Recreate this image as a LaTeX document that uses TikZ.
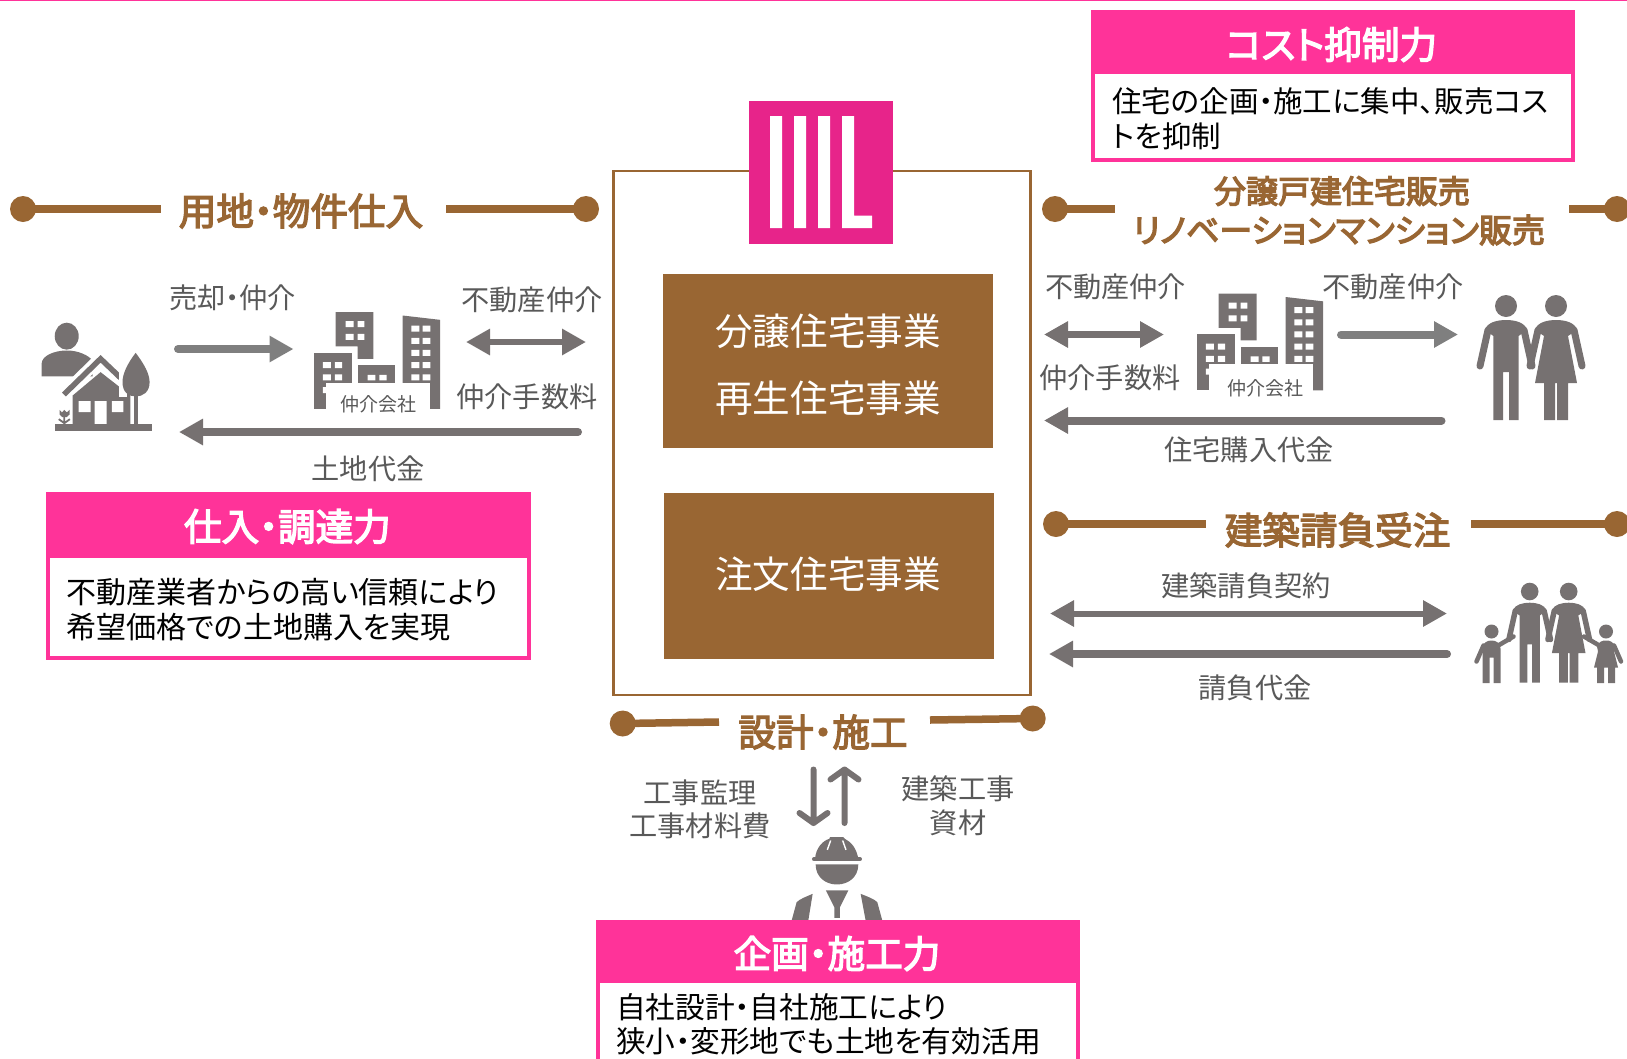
\documentclass[tikz,border=0pt]{standalone}
\usepackage{fontspec}
\setmainfont[RawFeature=+palt]{Noto Sans CJK JP}
\usetikzlibrary{arrows.meta}
\definecolor{pinkc}{HTML}{FF3399}
\definecolor{logoc}{HTML}{E7248A}
\definecolor{brownc}{HTML}{996633}
\definecolor{grayc}{HTML}{767171}
\definecolor{lgrayc}{HTML}{7F7F7F}
\definecolor{textc}{HTML}{595959}
\newcommand{\fsz}[1]{\fontsize{#1}{#1}\selectfont}
\newcommand{\semi}[1]{\special{pdf:code 2 Tr 1.3 w}#1\special{pdf:code 0 Tr 1 w}}
\tikzset{
  lbl/.style={inner sep=0pt,text=textc,font=\fsz{28.2}},
  ttl/.style={inner sep=0pt,text=brownc,font=\fsz{37.6}},
  hdr/.style={inner sep=0pt,text=white,font=\fsz{37.6}},
  bodyt/.style={inner sep=0pt,anchor=west,text=black,font=\fsz{30}},
  biz/.style={inner sep=0pt,text=white,font=\fsz{37.6}},
  bar/.style={brownc,line width=7.5pt},
  ball/.style={fill=brownc,draw=none},
  arr/.style={grayc,line width=8pt,line cap=round,-{Triangle[length=24pt,width=25pt]}},
  arrl/.style={lgrayc,line width=8pt,line cap=round,-{Triangle[length=24pt,width=25pt]}},
  darr/.style={grayc,line width=6.5pt,{Triangle[length=24pt,width=25pt]}-{Triangle[length=24pt,width=25pt]}},
  varr/.style={grayc,line width=6pt,line cap=round,line join=round},
  ctag/.style={inner sep=0pt,text=textc,font=\fsz{19}}
}
\newcommand{\pinkbox}[5]{%
  \fill[pinkc] (#1,#2) rectangle (#3,#5);
  \draw[pinkc,line width=4pt] (#1+2,#2+2) rectangle (#3-2,#4-2);}
% building, in zoom units
\newcommand{\bldg}[2]{%
\begin{scope}[shift={(#1,#2)},x=0.3984pt,y=-0.3333pt]
  \fill[grayc] (850,125) -- (945,125) -- (945,265) -- (905,265) -- (905,228) -- (850,228) -- cycle;
  \fill[grayc] (795,247) rectangle (890,415);
  \fill[grayc] (905,285) rectangle (1000,415);
  \fill[grayc] (1018,135) -- (1112,148) -- (1112,415) -- (1018,415) -- cycle;
  \fill[white] (875,152) rectangle (895,170) (905,152) rectangle (922,170)
    (875,190) rectangle (895,208) (905,190) rectangle (922,208)
    (818,275) rectangle (838,293) (848,275) rectangle (866,293)
    (818,312) rectangle (838,330) (848,312) rectangle (866,330)
    (818,350) rectangle (832,368)
    (930,313) rectangle (950,330) (960,313) rectangle (978,330);
  \foreach \yy in {165,202,238,275,312}{
    \fill[white] (1040,\yy) rectangle (1060,\yy+18) (1068,\yy) rectangle (1088,\yy+18);}
  \fill[white] (827,337) rectangle (1087,440);
\end{scope}}
% adults, head centre at origin, couple-size units
\newcommand{\manfig}[4]{%
\begin{scope}[shift={(#1,#2)},scale=#3]
  \fill[grayc] (0,0) circle (11);
  \fill[grayc] (-12.6,114) -- (-12.6,30) -- (-21,24) .. controls (-19,16) and (-8,14) .. (0,14)
    .. controls (8,14) and (19,16) .. (21,24) -- (12.6,30) -- (12.6,114) -- (3,114) -- (3,66) -- (-3,66) -- (-3,114) -- cycle;
  \draw[grayc,line width=#4,line cap=round] (-18,24) -- (-26,60) (18,24) -- (26,60);
\end{scope}}
\newcommand{\womanfig}[4]{%
\begin{scope}[shift={(#1,#2)},scale=#3]
  \fill[grayc] (0,0) circle (11);
  \fill[grayc] (-12,114) -- (-12,77) -- (-21,77) -- (-12,30) -- (-21,24) .. controls (-19,16) and (-8,14) .. (0,14)
    .. controls (8,14) and (19,16) .. (21,24) -- (12,30) -- (21,77) -- (12,77) -- (12,114) -- (1,114) -- (1,77) -- (-1,77) -- (-1,114) -- cycle;
  \draw[grayc,line width=#4,line cap=round] (-18,24) -- (-26,60) (18,24) -- (26,60);
\end{scope}}
\begin{document}
\begin{tikzpicture}[x=1pt,y=-1pt]
\useasboundingbox (0,0) rectangle (1627,1058);
\clip (0,0) rectangle (1627,1058);
\fill[pinkc] (0,0) rectangle (1627,1.2);

% central frame
\node[draw=brownc,line width=2.5pt,minimum width=417pt,minimum height=524pt,inner sep=0pt] (frame) at (821.8,433) {};
\fill[logoc] (749,100.5) rectangle (893,243.5);
\fill[white] (770,116) rectangle (782,228) (794,116) rectangle (806,228) (818,116) rectangle (830,228)
  (842,116) rectangle (854,228) (854,215.5) rectangle (872,228);
\fill[brownc] (663,274) rectangle (993,447.5);
\fill[brownc] (664,493) rectangle (994,659);
\node[biz] (b1) at (828,331) {分譲住宅事業};
\node[biz] (b2) at (828,398.5) {再生住宅事業};
\node[biz] (b3) at (828,574) {注文住宅事業};

% left banner
\coordinate (la) at (23,209); \coordinate (lb) at (161,209);
\coordinate (lc) at (446,209); \coordinate (ld) at (586,209);
\draw[bar] (la) -- (lb); \draw[bar] (lc) -- (ld);
\fill[ball] (la) circle (13); \fill[ball] (ld) circle (13);
\node[ttl] (t1) at (301,211) {\semi{用地・物件仕入}};

% right banners
\coordinate (ra) at (1055,209); \coordinate (rb) at (1115,209);
\coordinate (rc) at (1569,209); \coordinate (rd) at (1617,209);
\draw[bar] (ra) -- (rb); \draw[bar] (rc) -- (rd);
\fill[ball] (ra) circle (13); \fill[ball] (rd) circle (13);
\node[ttl,font=\fsz{32}] (t2) at (1342,191) {\semi{分譲戸建住宅販売}};
\node[ttl,font=\fsz{33}] (t3) at (1339,230) {\semi{リノベーションマンション販売}};

\coordinate (sa) at (1056,524); \coordinate (sb) at (1206,524);
\coordinate (sc) at (1471,524); \coordinate (sd) at (1617,524);
\draw[bar] (sa) -- (sb); \draw[bar] (sc) -- (sd);
\fill[ball] (sa) circle (13); \fill[ball] (sd) circle (13);
\node[ttl] (t4) at (1337.5,530) {\semi{建築請負受注}};

% design banner
\coordinate (da) at (622.7,723.5); \coordinate (db) at (719,722);
\coordinate (dc) at (930,720); \coordinate (dd) at (1032.7,718.5);
\draw[bar] (da) -- (db); \draw[bar] (dc) -- (dd);
\fill[ball] (da) circle (13); \fill[ball] (dd) circle (13);
\node[ttl] (t5) at (823,732) {\semi{設計・施工}};

% left flow
\bldg{-3}{270.5}
\node[ctag] (c1) at (378.7,404) {仲介会社};
\coordinate (a1s) at (178,349); \coordinate (a1e) at (293.5,349);
\draw[arrl] (a1s) -- (a1e);
\coordinate (a2s) at (466,342); \coordinate (a2e) at (586,342);
\draw[darr] (a2s) -- (a2e);
\coordinate (a3s) at (578,432); \coordinate (a3e) at (179,432);
\draw[arr] (a3s) -- (a3e);
\node[lbl] (l1) at (232.5,298) {売却・仲介};
\node[lbl] (l2) at (532,300) {不動産仲介};
\node[lbl] (l3) at (527,397) {仲介手数料};
\node[lbl] (l4) at (368,469) {土地代金};

% house and owner
\begin{scope}[shift={(-1,270.5)},x=0.3984pt,y=-0.3333pt]
  \fill[grayc] (170,197) ellipse [x radius=12pt,y radius=13.5pt];
  \fill[grayc] (107,318) -- (107,280) .. controls (107,255) and (140,240) .. (170,240)
    .. controls (200,240) and (225,255) .. (235,270) -- (235,318) -- cycle;
  \draw[white,line width=12pt,miter limit=10] (155,380) -- (255,262) -- (312,330);
  \draw[grayc,line width=5.5pt,miter limit=10] (163,372) -- (255,265) -- (305,322);
  \fill[grayc] (185,462) -- (185,375) -- (255,305) -- (330,375) -- (330,462) -- cycle;
  \fill[white] (200,392) rectangle (230,425) (240,392) rectangle (270,462) (283,392) rectangle (312,425);
  \draw[white,line width=9pt] (343,378) -- (343,462);
  \fill[white] (300,300) rectangle (322,380);
  \fill[grayc] (343,247) .. controls (322,280) and (310,310) .. (310,335) .. controls (310,365) and (325,378) .. (343,378)
    .. controls (361,378) and (378,365) .. (378,335) .. controls (378,310) and (364,280) .. (343,247) -- cycle;
  \draw[grayc,line width=4pt] (343,370) -- (343,462);
  \fill[grayc] (140,462) rectangle (384,483);
  \fill[grayc] (152,418) -- (158,426) -- (164,418) -- (170,426) -- (177,418) -- (177,432) -- (170,440) -- (159,440) -- (152,432) -- cycle;
  \draw[grayc,line width=1.8pt] (164,440) -- (164,462) (150,446) -- (164,458) (178,446) -- (164,458);
\end{scope}

% right flow
\bldg{880}{252}
\node[ctag] (c2) at (1265.9,388) {仲介会社};
\coordinate (b1s) at (1044,334.5); \coordinate (b1e) at (1164,334.5);
\draw[darr] (b1s) -- (b1e);
\coordinate (b2s) at (1341,334.5); \coordinate (b2e) at (1458,334.5);
\draw[arrl] (b2s) -- (b2e);
\coordinate (b3s) at (1441.5,420.5); \coordinate (b3e) at (1044,420.5);
\draw[arr] (b3s) -- (b3e);
\node[lbl] (r1) at (1115.5,287) {不動産仲介};
\node[lbl] (r2) at (1393,287) {不動産仲介};
\node[lbl] (r3) at (1110,378) {仲介手数料};
\node[lbl] (r4) at (1249,450) {住宅購入代金};
\manfig{1506}{306}{1}{7pt}
\womanfig{1556}{306}{1}{7pt}

% contract flow
\coordinate (c1s) at (1050,613.5); \coordinate (c1e) at (1447,613.5);
\draw[darr,line width=6pt] (c1s) -- (c1e);
\coordinate (c2s) at (1447,654); \coordinate (c2e) at (1049,654);
\draw[arr] (c2s) -- (c2e);
\node[lbl] (f1) at (1246,586) {建築請負契約};
\node[lbl] (f2) at (1255,688) {請負代金};
\manfig{1529.7}{591.5}{0.8}{5.5pt}
\womanfig{1568.7}{591.5}{0.8}{5.5pt}
% children
\begin{scope}[shift={(1491.5,631.5)}]
  \fill[grayc] (0,0) circle (7);
  \fill[grayc] (-9,51.7) -- (-9,17) .. controls (-9,11) and (-4,9) .. (0,9) .. controls (4,9) and (9,11) .. (9,17)
    -- (9,51.7) -- (2,51.7) -- (2,26) -- (-2,26) -- (-2,51.7) -- cycle;
  \draw[grayc,line width=4.5pt,line cap=round] (-8,14) -- (-15,30) (5,15) -- (22,5);
\end{scope}
\begin{scope}[shift={(1606,631.5)}]
  \fill[grayc] (0,0) circle (7);
  \fill[grayc] (-9,51.7) -- (-9,36) -- (-12,36) -- (-8,20) -- (-9,15) .. controls (-7,10) and (-4,9) .. (0,9) .. controls (4,9) and (7,10) .. (9,15)
    -- (8,20) -- (12,36) -- (9,36) -- (9,51.7) -- (2,51.7) -- (2,36) -- (-2,36) -- (-2,51.7) -- cycle;
  \draw[grayc,line width=4.5pt,line cap=round] (8,14) -- (15,30) (-5,15) -- (-22,5);
\end{scope}

% construction flow
\coordinate (v1s) at (813.5,769.5); \coordinate (v1e) at (813.5,823);
\coordinate (v1l) at (799.5,813); \coordinate (v1r) at (827.5,813);
\draw[varr] (v1s) -- (v1e) (v1l) -- (v1e) -- (v1r);
\coordinate (v2s) at (844.5,823); \coordinate (v2e) at (844.5,769.5);
\coordinate (v2l) at (830.5,779.5); \coordinate (v2r) at (858.5,779.5);
\draw[varr] (v2s) -- (v2e) (v2l) -- (v2e) -- (v2r);
\node[lbl] (w1) at (700,793) {工事監理};
\node[lbl] (w2) at (700,826) {工事材料費};
\node[lbl] (w3) at (958,789) {建築工事};
\node[lbl] (w4) at (958,822.7) {資材};
\begin{scope}[shift={(590,690.5)},x=0.3333pt,y=-0.3333pt]
  \fill[grayc] (675,505) .. controls (678,470) and (700,450) .. (718,445) -- (720,440) -- (760,440) -- (765,445)
    .. controls (785,455) and (800,475) .. (805,505) -- cycle;
  \draw[grayc,line width=4pt,line cap=round] (672,506) -- (810,506);
  \draw[white,line width=1.4pt] (722,450) -- (712,478) (758,450) -- (768,478);
  \fill[grayc] (677,522) -- (805,522) .. controls (805,560) and (775,582) .. (741,582) .. controls (707,582) and (677,560) .. (677,522) -- cycle;
  \fill[grayc] (605,690) -- (620,635) .. controls (630,625) and (650,618) .. (668,610) -- (655,690) -- cycle;
  \fill[grayc] (877,690) -- (862,635) .. controls (852,625) and (832,618) .. (812,610) -- (827,690) -- cycle;
  \fill[grayc] (708,600) -- (775,600) -- (750,650) -- (750,682) -- (733,682) -- (733,650) -- cycle;
\end{scope}

% pink boxes
\pinkbox{1090.5}{10.4}{1575}{162}{74}
\node[hdr] (h1) at (1331.5,44.5) {\semi{コスト抑制力}};
\node[bodyt,font=\fsz{29.5}] (h1a) at (1112,101) {住宅の企画・施工に集中、販売コス};
\node[bodyt,font=\fsz{29.5}] (h1b) at (1112,136) {トを抑制};

\pinkbox{45.7}{492}{530.5}{660}{558}
\node[hdr] (h2) at (287.4,526.5) {\semi{仕入・調達力}};
\node[bodyt,font=\fsz{30}] (h2a) at (66.4,592.5) {不動産業者からの高い信頼により};
\node[bodyt,font=\fsz{30}] (h2b) at (66.4,627.5) {希望価格での土地購入を実現};

\pinkbox{596}{920}{1080}{1075}{983}
\node[hdr] (h3) at (837,953.5) {\semi{企画・施工力}};
\node[bodyt,font=\fsz{29.7}] (h3a) at (616,1006.7) {自社設計・自社施工により};
\node[bodyt,font=\fsz{29.7}] (h3b) at (616,1041) {狭小・変形地でも土地を有効活用};
\end{tikzpicture}
\end{document}
